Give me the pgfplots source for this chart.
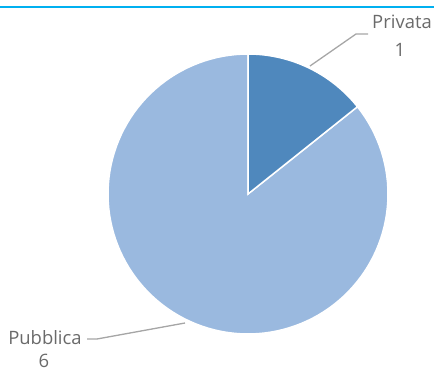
\documentclass[border=0pt]{standalone}
\usepackage{pgfplots}
\usepackage{pgfplotstable}
\pgfplotsset{compat=1.18}
\usepackage{fontspec}
\setmainfont{Open Sans}
\definecolor{cPriv}{HTML}{4F88BD}
\definecolor{cPubb}{HTML}{9AB9DF}
\definecolor{cText}{HTML}{6A6A6A}
\definecolor{cLead}{HTML}{A6A6A6}
\definecolor{cTop}{HTML}{00B0F0}
\pgfplotstableread{
label value
Privata 1
Pubblica 6
}\piedata
\pgfplotstablegetelem{0}{value}\of\piedata \let\vPriv\pgfplotsretval
\pgfplotstablegetelem{1}{value}\of\piedata \let\vPubb\pgfplotsretval
\pgfmathsetmacro{\total}{\vPriv+\vPubb}
\pgfmathsetmacro{\aA}{90}
\pgfmathsetmacro{\aB}{90-360*\vPriv/\total}
\pgfmathsetmacro{\aC}{\aB-360*\vPubb/\total}
\begin{document}
\begin{tikzpicture}
\begin{axis}[
  scale only axis, width=434bp, height=372bp,
  xmin=0, xmax=434, ymin=0, ymax=372,
  axis lines=none, clip=false,
  trig format plots=deg,
]
\addplot[fill=cPubb, draw=white, line width=1.5bp, domain=\aC:\aB, samples=120]
  ({248+140*cos(x)},{178+140*sin(x)}) -- (axis cs:248,178) -- cycle;
\addplot[fill=cPriv, draw=white, line width=1.5bp, domain=\aB:\aA, samples=40]
  ({248+140*cos(x)},{178+140*sin(x)}) -- (axis cs:248,178) -- cycle;
\draw[cTop, line width=1.3bp] (axis cs:0,365) -- (axis cs:434,365);
\draw[cLead, line width=1.3bp] (axis cs:310,306) -- (axis cs:356,338) -- (axis cs:368,338);
\draw[cLead, line width=1.3bp] (axis cs:185,49) -- (axis cs:97,33) -- (axis cs:87,33);
\node[text=cText, font=\fontsize{18.5}{20}\selectfont, align=center, inner sep=0pt] at (axis cs:402,350) {Privata};
\node[text=cText, font=\fontsize{18.5}{20}\selectfont, inner sep=0pt] at (axis cs:400,322) {1};
\node[text=cText, font=\fontsize{18.5}{20}\selectfont, inner sep=0pt] at (axis cs:45,34) {Pubblica};
\node[text=cText, font=\fontsize{18.5}{20}\selectfont, inner sep=0pt] at (axis cs:44,11) {6};
\end{axis}
\pgfresetboundingbox
\useasboundingbox (0,0) rectangle (434bp,372bp);
\end{tikzpicture}
\end{document}
